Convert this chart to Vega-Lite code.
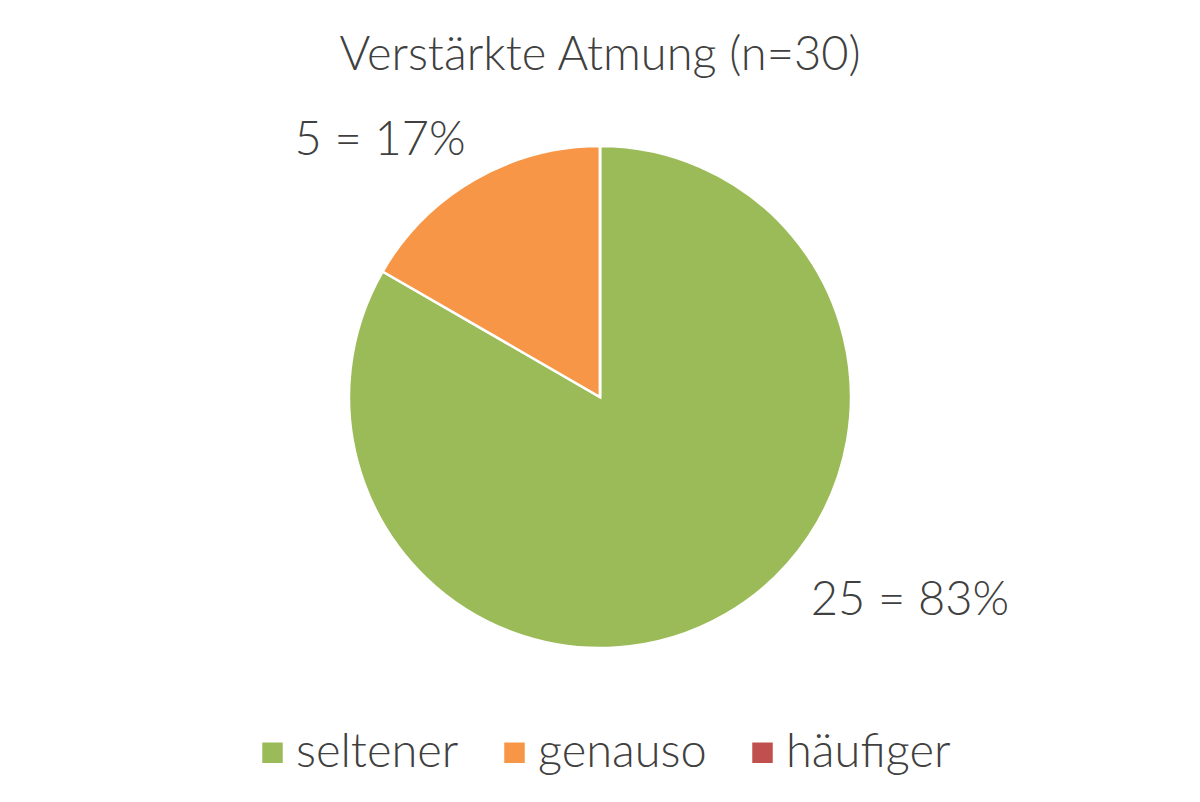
{
  "$schema": "https://vega.github.io/schema/vega-lite/v6.json",
  "autosize": {"type": "none"},
  "width": 1200,
  "height": 594,
  "padding": {"top": 100, "left": 0, "right": 0, "bottom": 108},
  "background": "white",
  "config": {"view": {"stroke": null}, "font": "Lato"},
  "title": {
    "text": "Verstärkte Atmung (n=30)",
    "fontSize": 47,
    "font": "Lato",
    "fontWeight": 300,
    "color": "#404040",
    "anchor": "middle",
    "frame": "group",
    "baseline": "alphabetic",
    "offset": -32
  },
  "data": {
    "values": [
      {"Kategorie": "seltener", "Anzahl": 25, "Rang": 1, "Beschriftung": "25 = 83%"},
      {"Kategorie": "genauso", "Anzahl": 5, "Rang": 2, "Beschriftung": "5 = 17%"},
      {"Kategorie": "häufiger", "Anzahl": 0, "Rang": 3, "Beschriftung": ""}
    ]
  },
  "encoding": {
    "theta": {"field": "Anzahl", "type": "quantitative", "stack": true},
    "order": {"field": "Rang", "type": "quantitative"}
  },
  "layer": [
    {
      "mark": {"type": "arc", "outerRadius": 251, "stroke": "white", "strokeWidth": 2.5},
      "encoding": {
        "color": {
          "field": "Kategorie",
          "type": "nominal",
          "scale": {"domain": ["seltener", "genauso", "häufiger"], "range": ["#9BBB59", "#F79646", "#C0504D"]},
          "legend": {
            "title": null,
            "orient": "none",
            "direction": "horizontal",
            "legendX": 249,
            "legendY": 629,
            "symbolType": "square",
            "symbolSize": 420,
            "symbolStrokeWidth": 0,
            "symbolOpacity": 1,
            "labelFontSize": 47,
            "labelFont": "Lato",
            "labelFontWeight": 300,
            "labelColor": "#404040",
            "labelOffset": 0,
            "columnPadding": 32,
            "labelLimit": 400,
            "padding": 0
          }
        }
      }
    },
    {
      "mark": {"type": "text", "radius": 240, "dx": 190, "dy": 10, "align": "center", "baseline": "alphabetic", "fontSize": 47, "font": "Lato", "fontWeight": 300, "color": "#404040"},
      "encoding": {
        "text": {"condition": {"test": "datum.Kategorie === 'seltener'", "field": "Beschriftung"}, "value": ""}
      }
    },
    {
      "mark": {"type": "text", "radius": 240, "dx": -100, "dy": -34, "align": "center", "baseline": "alphabetic", "fontSize": 47, "font": "Lato", "fontWeight": 300, "color": "#404040"},
      "encoding": {
        "text": {"condition": {"test": "datum.Kategorie === 'genauso'", "field": "Beschriftung"}, "value": ""}
      }
    }
  ]
}
